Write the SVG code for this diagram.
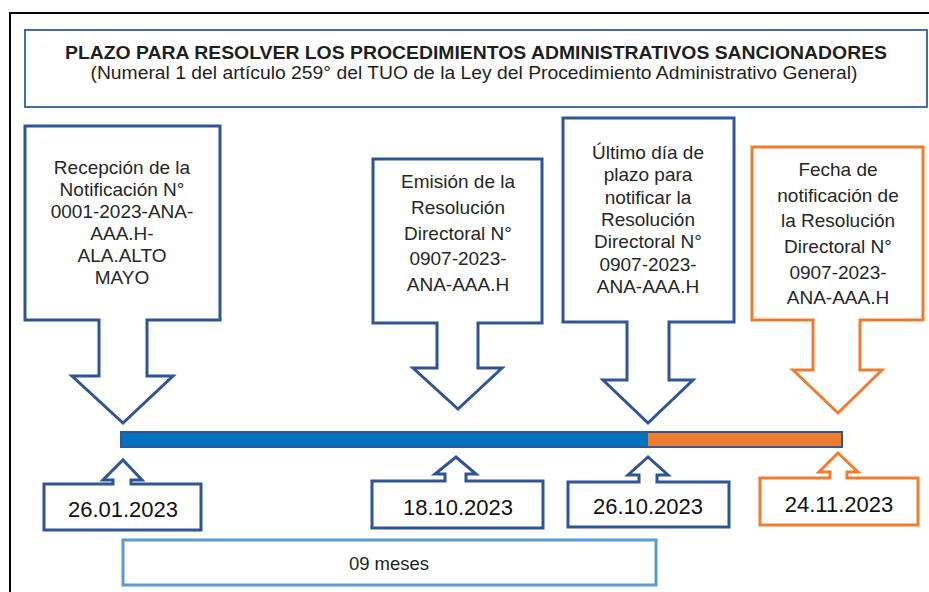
<svg xmlns="http://www.w3.org/2000/svg" width="929" height="592" viewBox="0 0 929 592">
<style>
text{font-family:"Liberation Sans",Arial,sans-serif;fill:#1f1f1f;text-anchor:middle}
.cb{fill:#fff;stroke:#2F5597;stroke-width:3;stroke-linejoin:miter}
.co{fill:#fff;stroke:#ED7D31;stroke-width:3;stroke-linejoin:miter}
.lbl{font-size:19px;fill:#262626}
.date{font-size:22px;fill:#111}
</style>
<rect width="929" height="592" fill="#fff"/>
<path d="M10,592 V13 H929" fill="none" stroke="#000" stroke-width="2"/>
<g id="title">
<rect x="25" y="30" width="902" height="77" fill="#fff" stroke="#41719C" stroke-width="2"/>
<text x="476" y="59" font-size="18" font-weight="bold" textLength="822" lengthAdjust="spacingAndGlyphs">PLAZO PARA RESOLVER LOS PROCEDIMIENTOS ADMINISTRATIVOS SANCIONADORES</text>
<text x="474" y="79" font-size="17.5" fill="#262626" textLength="767" lengthAdjust="spacingAndGlyphs">(Numeral 1 del artículo 259° del TUO de la Ley del Procedimiento Administrativo General)</text>
</g>
<g id="connectors">
<g id="bar">
<rect x="121" y="432" width="527" height="15" fill="#0070C0"/>
<rect x="648" y="432" width="194" height="15" fill="#ED7D31"/>
<rect x="121" y="432" width="721" height="15" fill="none" stroke="#2F5597" stroke-width="2"/>
</g>
</g>
<g id="recepcion">
<path class="cb" d="M25,126 H220 V320 H147 V376 H173 L123,423 L72,376 H99 V320 H25 Z"/>
<text class="lbl" x="122" y="174">Recepción de la</text>
<text class="lbl" x="122" y="196">Notificación N°</text>
<text class="lbl" x="122" y="218">0001-2023-ANA-</text>
<text class="lbl" x="122" y="240">AAA.H-</text>
<text class="lbl" x="122" y="262">ALA.ALTO</text>
<text class="lbl" x="122" y="284">MAYO</text>
</g>
<g id="emision">
<path class="cb" d="M373,159 H542 V323 H478 V368 H502 L458,409 L413,368 H437 V323 H373 Z"/>
<text class="lbl" x="458" y="188">Emisión de la</text>
<text class="lbl" x="458" y="214">Resolución</text>
<text class="lbl" x="458" y="240">Directoral N°</text>
<text class="lbl" x="458" y="265">0907-2023-</text>
<text class="lbl" x="458" y="291">ANA-AAA.H</text>
</g>
<g id="ultimo">
<path class="cb" d="M563,118 H734 V322 H669 V380 H693 L648,423 L603,380 H627 V322 H563 Z"/>
<text class="lbl" x="648" y="159">Último día de</text>
<text class="lbl" x="648" y="181">plazo para</text>
<text class="lbl" x="648" y="204">notificar la</text>
<text class="lbl" x="648" y="226">Resolución</text>
<text class="lbl" x="648" y="248">Directoral N°</text>
<text class="lbl" x="648" y="271">0907-2023-</text>
<text class="lbl" x="648" y="293">ANA-AAA.H</text>
</g>
<g id="notificacion">
<path class="co" d="M752,147 H923 V320 H860 V370 H882 L838,413 L793,370 H813 V320 H752 Z"/>
<text class="lbl" x="838" y="176">Fecha de</text>
<text class="lbl" x="838" y="202">notificación de</text>
<text class="lbl" x="838" y="227">la Resolución</text>
<text class="lbl" x="838" y="253">Directoral N°</text>
<text class="lbl" x="838" y="279">0907-2023-</text>
<text class="lbl" x="838" y="304">ANA-AAA.H</text>
</g>
<g id="d1">
<path class="cb" d="M44,484 H113 V480 H103 L123,460 L142,480 H131 V484 H201 V530 H44 Z"/>
<text class="date" x="123" y="517">26.01.2023</text>
</g>
<g id="d2">
<path class="cb" d="M372,481 H445 V474 H435 L456,457 L476,474 H466 V481 H543 V528 H372 Z"/>
<text class="date" x="458" y="515">18.10.2023</text>
</g>
<g id="d3">
<path class="cb" d="M568,482 H639 V475 H628 L648,457 L668,475 H657 V482 H729 V527 H568 Z"/>
<text class="date" x="648" y="514">26.10.2023</text>
</g>
<g id="d4">
<path class="co" d="M760,478 H830 V472 H819 L838,453 L858,472 H847 V478 H918 V525 H760 Z"/>
<text class="date" x="839" y="512">24.11.2023</text>
</g>
<g id="meses">
<rect x="123" y="540" width="533" height="45" fill="#fff" stroke="#5B9BD5" stroke-width="3"/>
<text x="389" y="570" font-size="18.5" fill="#262626">09 meses</text>
</g>
</svg>
